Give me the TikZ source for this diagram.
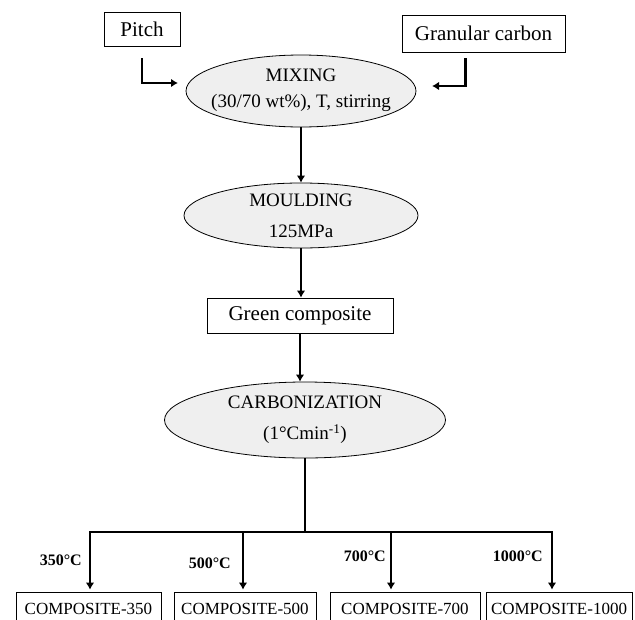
\documentclass[tikz,border=0pt]{standalone}
\usepackage{fontspec}
\setmainfont{Liberation Serif}
\usetikzlibrary{shapes.geometric,arrows.meta}
\definecolor{ovalgray}{RGB}{239,239,239}
\begin{document}
\begin{tikzpicture}[x=1pt, y=-1pt, >={Latex[length=7pt,width=8.5pt]},
	stage/.style={draw, line width=0.8pt, inner sep=0pt, font=\fontsize{21}{25}\selectfont},
	oval/.style={ellipse, draw, line width=0.8pt, fill=ovalgray, inner sep=0pt},
	ovaltext/.style={align=center, inner sep=0pt, font=\fontsize{19}{#1}\selectfont},
	ovaltext/.default=31,
	flow/.style={line width=2.5pt, ->},
	product/.style={draw, line width=0.8pt, inner sep=0pt, minimum height=33pt, font=\fontsize{17}{20}\selectfont},
	temp/.style={inner sep=0pt, font=\bfseries\fontsize{16}{19}\selectfont}]
	% Khung hình
	\useasboundingbox (0,0) rectangle (635,619);
	
	% Nguyên liệu
	\node[stage, minimum width=76pt, minimum height=34pt] (pitch) at (142,29) {Pitch};
	\node[stage, minimum width=163pt, minimum height=37pt] (granular) at (483.5,33.5) {Granular carbon};
	\coordinate (pitchin) at (178,83);
	\coordinate (granin) at (432,86);
	
	% Các công đoạn
	\node[oval, minimum width=230pt, minimum height=72pt] (mix) at (301,91) {};
	\node[ovaltext=26] (mixtxt) at (301,90) {MIXING\\(30/70 wt\%), T, stirring};
	\node[oval, minimum width=234pt, minimum height=65pt] (mould) at (301,215.5) {};
	\node[ovaltext] (mouldtxt) at (mould) {MOULDING\\125MPa};
	\node[stage, minimum width=186pt, minimum height=35pt] (green) at (300,315.5) {Green composite};
	\node[oval, minimum width=281pt, minimum height=76pt] (carb) at (305,420) {};
	\node[ovaltext] (carbtxt) at (carb) {CARBONIZATION\\(1°Cmin\textsuperscript{-1})};
	
	% Mũi tên
	\draw[flow] ([yshift=-12pt]pitch.south) |- (pitchin);
	\draw[flow] ([xshift=-18pt,yshift=-6pt]granular.south) |- (granin);
	\draw[flow] (mix.south) -- (mould.north);
	\draw[flow] (mould.south) -- (mould.south |- green.north);
	\draw[flow] (green.south) -- (green.south |- carb.north);
	
	% Sản phẩm
	\foreach \bx/\cx/\w/\val/\pos/\gap in {90/88.5/145/350/0.48/7, 243/245/142/500/0.52/11, 391/405/150/700/0.4/4, 552/559/146/1000/0.4/8}{
		\node[product, minimum width=\w pt] (comp\val) at (\cx,608.5) {COMPOSITE-\val};
		\coordinate (branch\val) at (\bx,532);
		\draw[flow, shorten >=2pt] (branch\val) -- (branch\val |- comp\val.north) node[pos=\pos, left=\gap pt, temp] {\val{}°C};
	}
	\draw[line width=2.5pt, line cap=rect] (branch350) -- (branch1000);
	\draw[line width=2.5pt] (carb.south) -- (carb.south |- branch350);
\end{tikzpicture}
\end{document}
